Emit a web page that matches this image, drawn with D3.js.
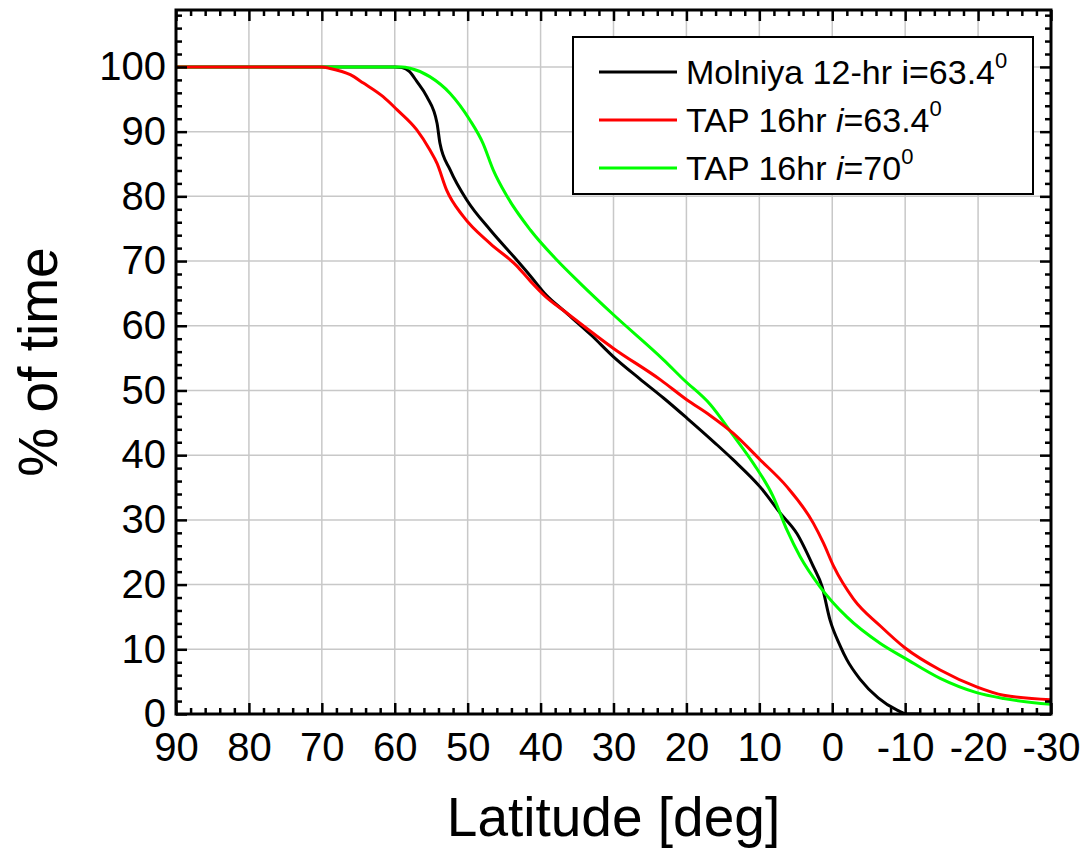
<!DOCTYPE html>
<html>
<head>
<meta charset="utf-8">
<script src="https://cdn.jsdelivr.net/npm/d3@7"></script>
<style>
  body { margin: 0; background: #fff; }
  svg { display: block; font-family: "Liberation Sans", Arial, sans-serif; }
</style>
</head>
<body>
<svg id="chart" width="1082" height="855"></svg>
<script>
// latitude / % of time
const molniyaLat = [90, 60, 59, 58, 57, 55.6, 54.2, 53.8, 52.4, 50.1, 46.9, 43.3, 41.4, 39.2, 36.9, 33, 30, 26.4, 23.1, 19.9, 16, 13.6, 9.9, 7.1, 4.85, 2.6, 1.4, 0.3, -1.1, -2.0, -3.8, -6.3, -8.9, -10.2, -12];
const molniyaPct = [100, 100, 99.9, 99.3, 97.8, 95.4, 91.3, 88.2, 84.1, 79.4, 74.8, 70.2, 67.7, 64.7, 62.4, 58.5, 55.2, 51.8, 48.8, 45.7, 41.8, 39.3, 35.1, 31.0, 27.9, 22.8, 19.7, 14.5, 10.5, 8.4, 5.4, 2.5, 0.6, 0, 0];

const tap634Lat = [90, 70, 69, 66.1, 64.3, 61.6, 59.7, 57.0, 55.2, 54.2, 52.9, 50.6, 46.9, 43.3, 41.4, 39.2, 36.9, 30, 23.5, 20, 16.7, 13.6, 9.9, 6.2, 2.6, 1.2, -0.2, -2.9, -6.6, -10, -14.8, -19.8, -23.5, -30];
const tap634Pct = [100, 100, 99.8, 98.8, 97.5, 95.4, 93.4, 90.3, 87.2, 85.1, 81.0, 76.9, 72.7, 69.3, 66.9, 64.4, 62.4, 56.5, 51.6, 48.6, 46.1, 43.4, 39.3, 35.1, 29.5, 26.4, 22.8, 17.8, 13.6, 10.2, 6.8, 4.2, 2.9, 2.2];

const tap70Lat = [90, 59, 57.9, 55.2, 52.4, 49.7, 47.9, 46.5, 44.6, 41.4, 37.8, 34.6, 30, 23.1, 20.4, 16.7, 13.6, 10.8, 8.1, 6.2, 4.4, 1.7, -2.0, -6.6, -10, -14.8, -19.8, -23.5, -30];
const tap70Pct = [100, 100, 99.8, 98.5, 95.9, 91.8, 88.2, 84.1, 80.0, 74.8, 70.2, 66.6, 61.7, 54.7, 51.7, 47.8, 43.1, 38.7, 33.6, 28.4, 24.3, 19.7, 15.0, 10.9, 8.6, 5.5, 3.3, 2.4, 1.5];

const xMajor = [90, 80, 70, 60, 50, 40, 30, 20, 10, 0, -10, -20, -30];
const yMajor = [0, 10, 20, 30, 40, 50, 60, 70, 80, 90, 100];

const seriesNames = ['Molniya', 'TAP634', 'TAP70'];
const seriesColors = ['#000000', '#ff0000', '#00ff00'];

const series = [
  { name: seriesNames[0], color: seriesColors[0], lat: molniyaLat, pct: molniyaPct },
  { name: seriesNames[1], color: seriesColors[1], lat: tap634Lat, pct: tap634Pct },
  { name: seriesNames[2], color: seriesColors[2], lat: tap70Lat, pct: tap70Pct },
];

const svg = d3.select('#chart');
const pLeft = 176, pRight = 1051, pTop = 10, pBottom = 714;

const x = d3.scaleLinear().domain([90, -30]).range([pLeft, pRight]);
const y = d3.scaleLinear().domain([0, 108.8]).range([pBottom, pTop]);

const xMinor = d3.range(-30, 91, 2).filter((d) => d % 10 !== 0);
const yMinor = d3.range(2, 109, 2).filter((d) => d % 10 !== 0);

// grid
svg.append('g')
  .selectAll('line')
  .data(xMajor.filter((d) => d !== 90 && d !== -30))
  .enter()
  .append('line')
  .attr('x1', (d) => x(d)).attr('x2', (d) => x(d))
  .attr('y1', pTop).attr('y2', pBottom)
  .attr('stroke', '#c8c8c8').attr('stroke-width', 1.5);

svg.append('g')
  .selectAll('line')
  .data(yMajor.filter((d) => d !== 0))
  .enter()
  .append('line')
  .attr('x1', pLeft).attr('x2', pRight)
  .attr('y1', (d) => y(d)).attr('y2', (d) => y(d))
  .attr('stroke', '#c8c8c8').attr('stroke-width', 1.5);

// curves
const line = d3.line()
  .x((d) => x(d[0]))
  .y((d) => y(d[1]))
  .curve(d3.curveMonotoneX);

svg.append('defs').append('clipPath').attr('id', 'clip')
  .append('rect').attr('x', pLeft).attr('y', pTop)
  .attr('width', pRight - pLeft).attr('height', pBottom - pTop);

const plot = svg.append('g').attr('clip-path', 'url(#clip)');
// black first, then green, red on top near the tail
[series[0], series[2], series[1]].forEach((s) => {
  plot.append('path')
    .datum(s.lat.map((v, i) => [v, s.pct[i]]))
    .attr('fill', 'none')
    .attr('stroke', s.color)
    .attr('stroke-width', 3)
    .attr('stroke-linejoin', 'round')
    .attr('d', line);
});

// axes, ticks pointing inward
const styleAxis = (g) => {
  g.select('.domain').remove();
  g.selectAll('.tick line').attr('stroke', '#000').attr('stroke-width', 2.5);
  g.selectAll('.tick text').attr('fill', '#000').style('font-size', '40px')
    .style('font-family', '"Liberation Sans", Arial, sans-serif');
};
const plain = (d) => String(d);

svg.append('g')
  .attr('transform', `translate(0,${pBottom})`)
  .call(d3.axisBottom(x).tickValues(xMajor).tickSize(-11).tickPadding(15).tickFormat(plain))
  .call(styleAxis)
  .selectAll('.tick text').attr('dy', '0.8em');

svg.append('g')
  .attr('transform', `translate(0,${pBottom})`)
  .call(d3.axisBottom(x).tickValues(xMinor).tickSize(-6).tickFormat(''))
  .call(styleAxis);

svg.append('g')
  .attr('transform', `translate(0,${pTop})`)
  .call(d3.axisTop(x).tickValues(xMajor).tickSize(-11).tickFormat(''))
  .call(styleAxis);

svg.append('g')
  .attr('transform', `translate(0,${pTop})`)
  .call(d3.axisTop(x).tickValues(xMinor).tickSize(-6).tickFormat(''))
  .call(styleAxis);

svg.append('g')
  .attr('transform', `translate(${pLeft},0)`)
  .call(d3.axisLeft(y).tickValues(yMajor).tickSize(-11).tickPadding(10).tickFormat(plain))
  .call(styleAxis);

svg.append('g')
  .attr('transform', `translate(${pLeft},0)`)
  .call(d3.axisLeft(y).tickValues(yMinor).tickSize(-6).tickFormat(''))
  .call(styleAxis);

svg.append('g')
  .attr('transform', `translate(${pRight},0)`)
  .call(d3.axisRight(y).tickValues(yMajor).tickSize(-11).tickFormat(''))
  .call(styleAxis);

svg.append('g')
  .attr('transform', `translate(${pRight},0)`)
  .call(d3.axisRight(y).tickValues(yMinor).tickSize(-6).tickFormat(''))
  .call(styleAxis);

// frame
svg.append('rect')
  .attr('x', pLeft).attr('y', pTop)
  .attr('width', pRight - pLeft).attr('height', pBottom - pTop)
  .attr('fill', 'none').attr('stroke', '#000').attr('stroke-width', 3);

// axis titles
svg.append('text')
  .attr('x', (pLeft + pRight) / 2).attr('y', 836)
  .attr('text-anchor', 'middle')
  .style('font-size', '55px')
  .text('Latitude [deg]');

svg.append('text')
  .attr('transform', `translate(57,${(pTop + pBottom) / 2}) rotate(-90)`)
  .attr('text-anchor', 'middle')
  .style('font-size', '55px')
  .text('% of time');

// legend
const legend = svg.append('g');
legend.append('rect')
  .attr('x', 573).attr('y', 37).attr('width', 460).attr('height', 157)
  .attr('fill', '#fff').attr('stroke', '#000').attr('stroke-width', 2);

const legendRows = [
  { pre: 'Molniya 12-hr ', i: 'i', italic: false, post: '=63.4' },
  { pre: 'TAP 16hr ', i: 'i', italic: true, post: '=63.4' },
  { pre: 'TAP 16hr ', i: 'i', italic: true, post: '=70' },
];
const rowY = [72, 120, 168];

legendRows.forEach((r, k) => {
  legend.append('line')
    .attr('x1', 599).attr('x2', 677)
    .attr('y1', rowY[k]).attr('y2', rowY[k])
    .attr('stroke', seriesColors[k]).attr('stroke-width', 3);
  const t = legend.append('text')
    .attr('x', 686).attr('y', rowY[k] + 12)
    .style('font-size', '34px');
  t.append('tspan').text(r.pre);
  t.append('tspan').style('font-style', r.italic ? 'italic' : 'normal').text(r.i);
  t.append('tspan').text(r.post);
  t.append('tspan').attr('dy', -16).style('font-size', '22px').text('0');
});
</script>
</body>
</html>
